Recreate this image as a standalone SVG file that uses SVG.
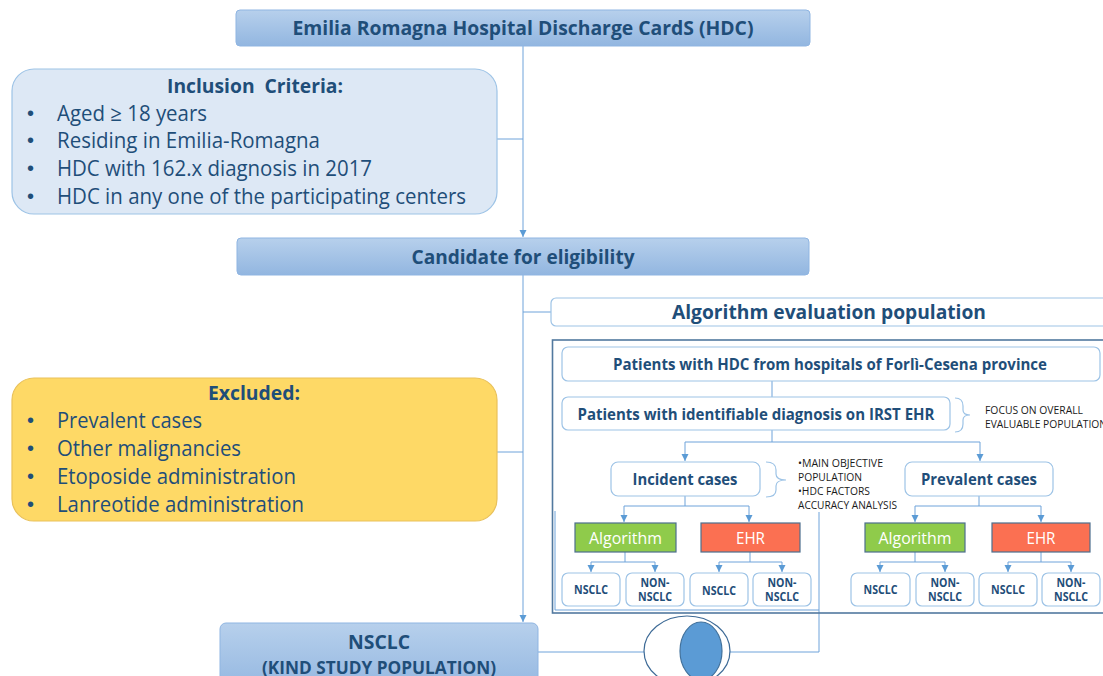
<svg xmlns="http://www.w3.org/2000/svg" width="1103" height="676" viewBox="0 0 1103 676">
  <defs>
    <linearGradient id="hdrFill" x1="0" y1="0" x2="0" y2="1">
      <stop offset="0" stop-color="#b7d0ec"/>
      <stop offset="1" stop-color="#92b6e0"/>
    </linearGradient>
    <marker id="arrow" markerWidth="8" markerHeight="8" refX="7" refY="4" orient="auto" markerUnits="userSpaceOnUse">
      <path d="M0,0.5 L7,4 L0,7.5 Z" fill="#5b9bd5"/>
    </marker>
    <style>
      .hdr { fill: url(#hdrFill); stroke: #8fb5e2; stroke-width: 1; }
      .soft { fill: #ffffff; stroke: #9dc3e6; stroke-width: 1.2; }
      .t { font-family: "Open Sans", "Liberation Sans", sans-serif; fill: #1f4e79; }
      .b { font-weight: bold; }
      .c { text-anchor: middle; }
      .w { fill: #ffffff; }
      .k { fill: #1a1a1a; font-family: "Open Sans", "Liberation Sans", sans-serif; }
      .ln { fill: none; stroke: #6fa3da; stroke-width: 1; }
      .br { fill: none; stroke: #9dc3e6; stroke-width: 1.2; }
      .dot { font-family: "Liberation Sans", sans-serif; fill: #1f4e79; }
    </style>
  </defs>

  <!-- connectors -->
  <g id="connectors">
    <path class="ln" d="M523,46 V237" marker-end="url(#arrow)"/>
    <path class="ln" d="M497,139 H523"/>
    <path class="ln" d="M523,275 V622" marker-end="url(#arrow)"/>
    <path class="ln" d="M523,312 H551"/>
    <path class="ln" d="M497,452 H523"/>
    <path class="ln" d="M772,381 V397"/>
    <path class="ln" d="M772,430 V442 M685,442 H980"/>
    <path class="ln" d="M685,442 V461" marker-end="url(#arrow)"/>
    <path class="ln" d="M980,442 V461" marker-end="url(#arrow)"/>
    <!-- incident branch -->
    <path class="ln" d="M685,496 V506 M624,506 H749"/>
    <path class="ln" d="M624,506 V522" marker-end="url(#arrow)"/>
    <path class="ln" d="M749,506 V522" marker-end="url(#arrow)"/>
    <path class="ln" d="M625,552 V562 M591,562 H655"/>
    <path class="ln" d="M591,562 V572" marker-end="url(#arrow)"/>
    <path class="ln" d="M655,562 V572" marker-end="url(#arrow)"/>
    <path class="ln" d="M750,552 V562 M719,562 H782"/>
    <path class="ln" d="M719,562 V572" marker-end="url(#arrow)"/>
    <path class="ln" d="M782,562 V572" marker-end="url(#arrow)"/>
    <!-- prevalent branch -->
    <path class="ln" d="M979,496 V506 M915,506 H1041"/>
    <path class="ln" d="M915,506 V522" marker-end="url(#arrow)"/>
    <path class="ln" d="M1041,506 V522" marker-end="url(#arrow)"/>
    <path class="ln" d="M915,552 V562 M880,562 H945"/>
    <path class="ln" d="M880,562 V572" marker-end="url(#arrow)"/>
    <path class="ln" d="M945,562 V572" marker-end="url(#arrow)"/>
    <path class="ln" d="M1041,552 V562 M1008,562 H1071"/>
    <path class="ln" d="M1008,562 V572" marker-end="url(#arrow)"/>
    <path class="ln" d="M1071,562 V572" marker-end="url(#arrow)"/>
    <!-- incident subset bracket and link to the study population -->
    <path class="ln" d="M555,511 V610 H819 M819,512 V652 H722"/>
    <path class="ln" d="M538,652 H645"/>
  </g>

  <!-- source -->
  <g id="hdc">
    <rect class="hdr" x="236" y="10" width="574" height="36" rx="4"/>
    <text class="t b c" x="523" y="35" font-size="20" textLength="461" lengthAdjust="spacingAndGlyphs">Emilia Romagna Hospital Discharge CardS (HDC)</text>
  </g>

  <g id="inclusion">
    <rect x="12" y="69" width="485" height="145" rx="22" fill="#dde8f5" stroke="#9dc3e6" stroke-width="1.2"/>
    <text class="t b c" x="255" y="93" font-size="20" textLength="176" lengthAdjust="spacingAndGlyphs" style="white-space:pre">Inclusion  Criteria:</text>
    <g class="dot" font-size="20">
      <text x="27" y="120">•</text>
      <text x="27" y="147">•</text>
      <text x="27" y="175">•</text>
      <text x="27" y="203">•</text>
    </g>
    <g class="t" font-size="21">
      <text x="57" y="121" textLength="150" lengthAdjust="spacingAndGlyphs">Aged ≥ 18 years</text>
      <text x="57" y="148" textLength="263" lengthAdjust="spacingAndGlyphs">Residing in Emilia-Romagna</text>
      <text x="57" y="176" textLength="315" lengthAdjust="spacingAndGlyphs">HDC with 162.x diagnosis in 2017</text>
      <text x="57" y="204" textLength="409" lengthAdjust="spacingAndGlyphs">HDC in any one of the participating centers</text>
    </g>
  </g>

  <g id="candidate">
    <rect class="hdr" x="237" y="238" width="572" height="37" rx="4"/>
    <text class="t b c" x="523" y="264" font-size="20" textLength="223" lengthAdjust="spacingAndGlyphs">Candidate for eligibility</text>
  </g>

  <g id="excluded">
    <rect x="12" y="378" width="485" height="143" rx="22" fill="#fed966" stroke="#e9c15a" stroke-width="1.2"/>
    <text class="t b c" x="254" y="400" font-size="20" textLength="92" lengthAdjust="spacingAndGlyphs">Excluded:</text>
    <g class="dot" font-size="20">
      <text x="27" y="427">•</text>
      <text x="27" y="455">•</text>
      <text x="27" y="483">•</text>
      <text x="27" y="511">•</text>
    </g>
    <g class="t" font-size="21">
      <text x="57" y="428" textLength="145" lengthAdjust="spacingAndGlyphs">Prevalent cases</text>
      <text x="57" y="456" textLength="184" lengthAdjust="spacingAndGlyphs">Other malignancies</text>
      <text x="57" y="484" textLength="239" lengthAdjust="spacingAndGlyphs">Etoposide administration</text>
      <text x="57" y="512" textLength="247" lengthAdjust="spacingAndGlyphs">Lanreotide administration</text>
    </g>
  </g>

  <g id="study-population">
    <rect class="hdr" x="220" y="623" width="318" height="70" rx="6"/>
    <text class="t b c" x="379" y="649" font-size="20" textLength="62" lengthAdjust="spacingAndGlyphs">NSCLC</text>
    <text class="t b c" x="379" y="674" font-size="18.5" textLength="234" lengthAdjust="spacingAndGlyphs">(KIND STUDY POPULATION)</text>
  </g>

  <g id="evaluation-population">
    <rect class="soft" x="551" y="298" width="570" height="28" rx="5"/>
    <text class="t b c" x="829" y="319" font-size="20" textLength="314" lengthAdjust="spacingAndGlyphs">Algorithm evaluation population</text>
  </g>

  <!-- frame of the evaluation flow -->
  <rect id="evaluation-frame" x="552.5" y="340" width="570" height="273" fill="none" stroke="#52799f" stroke-width="1.6"/>

  <g id="hdc-forli-cesena">
    <rect class="soft" x="562" y="347" width="538" height="34" rx="6"/>
    <text class="t b c" x="830" y="370" font-size="16" textLength="434" lengthAdjust="spacingAndGlyphs">Patients with HDC from hospitals of Forlì-Cesena province</text>
  </g>

  <g id="irst-ehr">
    <rect class="soft" x="562" y="397" width="388" height="33" rx="6"/>
    <text class="t b c" x="756" y="420" font-size="16" textLength="357" lengthAdjust="spacingAndGlyphs">Patients with identifiable diagnosis on IRST EHR</text>
    <path class="br" d="M955,398 Q963,398 963,406 V410 Q963,415 970,415 Q963,415 963,420 V424 Q963,432 955,432"/>
    <text class="k" x="985" y="414" font-size="10.5" textLength="98" lengthAdjust="spacingAndGlyphs">FOCUS ON OVERALL</text>
    <text class="k" x="985" y="428" font-size="10.5" textLength="122" lengthAdjust="spacingAndGlyphs">EVALUABLE POPULATION</text>
  </g>

  <g id="incident">
    <rect class="soft" x="611" y="462" width="149" height="34" rx="7"/>
    <text class="t b c" x="685" y="485" font-size="16.5" textLength="105" lengthAdjust="spacingAndGlyphs">Incident cases</text>
    <path class="br" d="M766,462 Q776,462 776,470 V474 Q776,480 786,480 Q776,480 776,486 V490 Q776,497 766,497"/>
    <text class="k" x="798" y="467" font-size="10.5" textLength="85" lengthAdjust="spacingAndGlyphs">•MAIN OBJECTIVE</text>
    <text class="k" x="798" y="481" font-size="10.5" textLength="64" lengthAdjust="spacingAndGlyphs">POPULATION</text>
    <text class="k" x="798" y="495" font-size="10.5" textLength="72" lengthAdjust="spacingAndGlyphs">•HDC FACTORS</text>
    <text class="k" x="798" y="509" font-size="10.5" textLength="99" lengthAdjust="spacingAndGlyphs">ACCURACY ANALYSIS</text>
  </g>

  <g id="prevalent">
    <rect class="soft" x="905" y="462" width="148" height="34" rx="7"/>
    <text class="t b c" x="979" y="485" font-size="16.5" textLength="116" lengthAdjust="spacingAndGlyphs">Prevalent cases</text>
  </g>

  <g id="incident-algorithm">
    <rect x="575" y="523" width="101" height="29" fill="#8fcb4b" stroke="#4d6f8e" stroke-width="1.2"/>
    <text class="t w c" x="625.5" y="543.5" font-size="16.5" textLength="73" lengthAdjust="spacingAndGlyphs">Algorithm</text>
  </g>
  <g id="incident-ehr">
    <rect x="701" y="523" width="99" height="29" fill="#fb7052" stroke="#4d6f8e" stroke-width="1.2"/>
    <text class="t w c" x="750.5" y="543.5" font-size="16.5" textLength="29" lengthAdjust="spacingAndGlyphs">EHR</text>
  </g>
  <g id="prevalent-algorithm">
    <rect x="865" y="523" width="100" height="29" fill="#8fcb4b" stroke="#4d6f8e" stroke-width="1.2"/>
    <text class="t w c" x="915" y="543.5" font-size="16.5" textLength="73" lengthAdjust="spacingAndGlyphs">Algorithm</text>
  </g>
  <g id="prevalent-ehr">
    <rect x="992" y="523" width="98" height="29" fill="#fb7052" stroke="#4d6f8e" stroke-width="1.2"/>
    <text class="t w c" x="1041" y="543.5" font-size="16.5" textLength="29" lengthAdjust="spacingAndGlyphs">EHR</text>
  </g>

  <!-- outcome boxes -->
  <g id="inc-alg-nsclc">
    <rect class="soft" x="562" y="573" width="58" height="33" rx="6"/>
    <text class="t b c" x="591" y="594" font-size="11.5" textLength="34" lengthAdjust="spacingAndGlyphs">NSCLC</text>
  </g>
  <g id="inc-alg-non">
    <rect class="soft" x="626" y="573" width="58" height="33" rx="6"/>
    <text class="t b c" x="655" y="587" font-size="11.5" textLength="29" lengthAdjust="spacingAndGlyphs">NON-</text>
    <text class="t b c" x="655" y="601" font-size="11.5" textLength="34" lengthAdjust="spacingAndGlyphs">NSCLC</text>
  </g>
  <g id="inc-ehr-nsclc">
    <rect class="soft" x="690" y="573" width="58" height="33" rx="6"/>
    <text class="t b c" x="719" y="595" font-size="11.5" textLength="34" lengthAdjust="spacingAndGlyphs">NSCLC</text>
  </g>
  <g id="inc-ehr-non">
    <rect class="soft" x="753" y="573" width="58" height="33" rx="6"/>
    <text class="t b c" x="782" y="587" font-size="11.5" textLength="29" lengthAdjust="spacingAndGlyphs">NON-</text>
    <text class="t b c" x="782" y="601" font-size="11.5" textLength="34" lengthAdjust="spacingAndGlyphs">NSCLC</text>
  </g>
  <g id="prev-alg-nsclc">
    <rect class="soft" x="851" y="573" width="59" height="33" rx="6"/>
    <text class="t b c" x="880.5" y="594" font-size="11.5" textLength="34" lengthAdjust="spacingAndGlyphs">NSCLC</text>
  </g>
  <g id="prev-alg-non">
    <rect class="soft" x="916" y="573" width="58" height="33" rx="6"/>
    <text class="t b c" x="945" y="587" font-size="11.5" textLength="29" lengthAdjust="spacingAndGlyphs">NON-</text>
    <text class="t b c" x="945" y="601" font-size="11.5" textLength="34" lengthAdjust="spacingAndGlyphs">NSCLC</text>
  </g>
  <g id="prev-ehr-nsclc">
    <rect class="soft" x="979" y="573" width="58" height="33" rx="6"/>
    <text class="t b c" x="1008" y="594" font-size="11.5" textLength="34" lengthAdjust="spacingAndGlyphs">NSCLC</text>
  </g>
  <g id="prev-ehr-non">
    <rect class="soft" x="1042" y="573" width="58" height="33" rx="6"/>
    <text class="t b c" x="1071" y="587" font-size="11.5" textLength="29" lengthAdjust="spacingAndGlyphs">NON-</text>
    <text class="t b c" x="1071" y="601" font-size="11.5" textLength="34" lengthAdjust="spacingAndGlyphs">NSCLC</text>
  </g>

  <!-- overlap of the incident subset with the study population -->
  <g id="overlap">
    <ellipse cx="687" cy="651" rx="43" ry="35" fill="#ffffff" stroke="#3d6a96" stroke-width="1.2"/>
    <ellipse cx="701" cy="651" rx="21" ry="29" fill="#5b9bd5" stroke="#41719c" stroke-width="1.2"/>
  </g>
</svg>
